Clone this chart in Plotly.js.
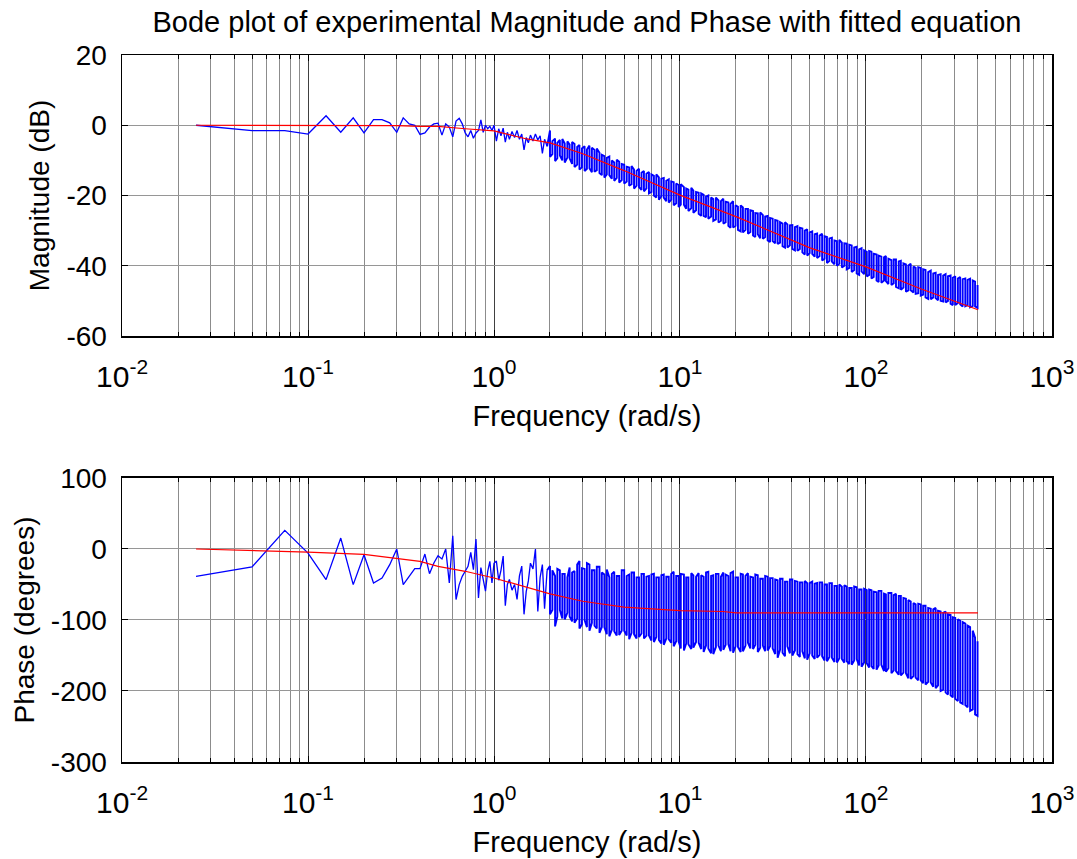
<!DOCTYPE html>
<html>
<head>
<meta charset="utf-8">
<script src="https://cdn.plot.ly/plotly-3.0.1.min.js"></script>
<style>html,body{margin:0;padding:0;background:#fff;}#chart{width:1077px;height:859px;}</style>
</head>
<body>
<div id="chart"></div>
<script>
// ---- measured data (read from the picture) ----
// low frequencies, individual samples (rad/s)
const lowFreq = [0.025,0.05,0.075,0.1,0.125,0.15,0.175,0.2,0.225,0.25,
                 0.275,0.3,0.325,0.35,0.375,0.4,0.425,0.45,0.475,0.5,
                 0.525,0.55,0.575,0.6,0.625,0.65,0.675,0.7,0.725,0.75,
                 0.775,0.8,0.825,0.85,0.875,0.9,0.925,0.95,0.975,1.0];
const magLow = [0,-1.5,-1.5,-2.5,2.7,-2.0,2.1,-2.2,1.6,1.6,
                0.7,-2.0,2.1,0.4,0.0,-2.6,-2.2,-0.5,0.4,0.6,
                -2.8,0.4,-0.5,-3.3,1.2,2.0,0.4,-2.2,-3.3,-1.5,
                -3.7,-2.2,-1.5,1.5,-2.0,0.0,-1.0,-0.3,-1.5,0.0];
const phLow = [-38.5,-25.3,26.2,-5.7,-43.1,15.4,-50.2,-8,-47.8,-40.8,
               -22.1,0,-50.2,-38.5,-27.7,-27.7,-7.1,-34.7,-19.7,-9.4,
               -14.1,0,-47.8,18.7,-71.2,-50.2,-38.5,-31.4,-24.4,-4.7,
               -29,14,-68.9,-26.2,-43.1,-59.5,-31.4,-17.4,-47.8,-20];

// 1 - 2 rad/s
const midFreq = [1.03,1.06,1.09,1.12,1.15,1.18,1.21,1.25,1.29,1.33,
                 1.37,1.41,1.45,1.49,1.53,1.57,1.62,1.67,1.72,1.77,
                 1.82,1.87,1.93];
const magMid = [-4.5,-1.0,-3.0,-0.8,-4.8,-2.0,-4.0,-1.8,-3.5,-1.5,
                -4.0,-2.5,-7.0,-3.5,-5.0,-2.8,-4.5,-2.5,-4.2,-3.0,
                -8.0,-4.0,-6.0];
const phMid = [-17,-44,-30,-10,-80,-50,-43,-58,-50,-71,
               -38,-24,-92,-60,-45,-20,-28,0,-88,-40,
               -22,-84,-30];

// 2 - 400 rad/s, dense band: upper and lower excursion at each frequency
const denseFreq = [
  2.00,2.06,2.13,2.19,2.26,2.33,2.40,2.48,2.55,2.63,
  2.71,2.80,2.88,2.97,3.07,3.16,3.26,3.36,3.47,3.57,
  3.69,3.80,3.92,4.04,4.17,4.30,4.43,4.57,4.71,4.86,
  5.01,5.17,5.33,5.49,5.66,5.84,6.02,6.21,6.40,6.60,
  6.81,7.02,7.24,7.46,7.70,7.94,8.18,8.44,8.70,8.97,
  9.25,9.54,9.83,10.1,10.5,10.8,11.1,11.5,11.8,12.2,
  12.6,13.0,13.4,13.8,14.2,14.7,15.1,15.6,16.1,16.6,
  17.1,17.6,18.2,18.7,19.3,19.9,20.5,21.2,21.8,22.5,
  23.2,23.9,24.7,25.4,26.2,27.0,27.9,28.7,29.6,30.5,
  31.5,32.5,33.5,34.5,35.6,36.7,37.8,39.0,40.2,41.5,
  42.8,44.1,45.5,46.9,48.3,49.8,51.4,53.0,54.6,56.3,
  58.1,59.9,61.7,63.6,65.6,67.7,69.8,71.9,74.2,76.5,
  78.8,81.3,83.8,86.4,89.1,91.9,94.7,97.7,101,104,
  107,110,114,117,121,125,128,132,137,141,
  145,150,154,159,164,169,174,180,185,191,
  197,203,209,216,223,230,237,244,252,260,
  268,276,285,293,302,312,321,331,342,352,
  363,375,386,398];
const magUpper = [
  -1.5,-4.5,-3.8,-5.0,-4.2,-3.9,-5.2,-4.6,-5.5,-4.8,
  -5.3,-6.2,-5.6,-6.6,-6.0,-6.9,-5.8,-6.4,-7.0,-6.6,
  -7.8,-8.4,-8.8,-9.3,-8.9,-10.0,-10.6,-9.8,-10.4,-11.0,
  -11.2,-11.8,-12.0,-11.6,-12.6,-13.0,-12.4,-13.5,-13.0,-13.8,
  -13.3,-14.0,-14.4,-14.0,-14.8,-15.2,-15.0,-15.8,-15.4,-16.0,
  -16.2,-16.6,-17.0,-16.8,-17.6,-18.0,-18.3,-17.8,-18.6,-19.0,
  -19.2,-19.4,-19.8,-20.3,-20.0,-20.6,-21.0,-20.6,-21.4,-21.6,
  -20.9,-21.8,-22.0,-22.4,-21.6,-22.8,-23.2,-22.8,-23.4,-23.8,
  -23.8,-24.2,-24.4,-25.0,-25.1,-24.8,-25.6,-26.0,-25.8,-26.4,
  -26.6,-27.0,-27.2,-27.6,-28.0,-27.6,-28.2,-28.5,-28.4,-29.0,
  -28.7,-29.2,-29.4,-30.0,-29.6,-30.5,-30.2,-31.0,-30.8,-31.4,
  -30.9,-31.6,-31.8,-32.2,-32.0,-32.8,-33.0,-32.6,-33.4,-33.6,
  -33.7,-34.0,-34.2,-34.8,-34.6,-35.3,-35.0,-35.6,-36.0,-35.8,
  -36.0,-36.6,-36.8,-37.1,-37.4,-37.6,-37.2,-38.0,-38.4,-38.2,
  -38.2,-38.8,-38.6,-39.3,-39.6,-39.9,-39.4,-40.2,-40.6,-40.4,
  -40.6,-41.0,-41.2,-41.8,-41.4,-42.2,-42.0,-42.6,-42.4,-42.8,
  -42.4,-43.0,-42.8,-43.4,-43.0,-43.6,-43.2,-43.8,-43.6,-44.0,
  -43.7,-44.2,-44.5,-45.5];
const magLower = [
  -9.0,-8.2,-10.2,-9.4,-8.6,-10.0,-10.6,-9.2,-9.4,-11.0,
  -11.9,-11.2,-12.6,-12.0,-13.0,-12.4,-12.2,-13.4,-13.2,-12.8,
  -13.6,-14.2,-14.9,-14.0,-14.2,-15.2,-15.8,-15.0,-16.3,-15.6,
  -16.6,-16.0,-17.2,-16.8,-18.0,-17.2,-17.6,-18.4,-18.8,-18.0,
  -19.4,-19.0,-20.0,-20.6,-21.2,-20.2,-20.6,-21.6,-22.0,-21.2,
  -22.8,-22.2,-23.3,-22.6,-22.6,-23.8,-24.4,-23.6,-24.9,-24.2,
  -25.2,-25.8,-25.8,-26.2,-26.6,-26.0,-27.2,-26.8,-27.7,-27.2,
  -28.0,-27.6,-28.6,-29.2,-29.1,-28.6,-29.8,-30.2,-30.5,-29.8,
  -30.9,-30.4,-31.4,-31.8,-31.0,-32.2,-32.3,-31.8,-32.8,-33.2,
  -33.0,-33.6,-33.8,-33.4,-34.4,-34.8,-34.8,-34.2,-35.2,-35.6,
  -35.7,-35.2,-36.2,-36.8,-37.1,-36.4,-36.6,-37.4,-37.8,-37.2,
  -38.5,-38.0,-39.2,-38.6,-38.8,-39.6,-40.0,-39.4,-40.5,-40.0,
  -41.0,-40.6,-41.8,-41.2,-42.2,-42.6,-41.6,-42.4,-43.0,-42.6,
  -43.6,-43.2,-44.2,-44.6,-44.8,-44.2,-44.4,-45.2,-45.5,-45.0,
  -46.0,-46.4,-46.8,-46.2,-47.4,-47.0,-47.0,-47.6,-48.0,-47.8,
  -48.5,-48.2,-49.0,-49.4,-49.5,-49.0,-49.2,-49.8,-50.0,-50.2,
  -50.4,-50.0,-50.8,-51.2,-51.2,-50.6,-51.0,-51.6,-51.5,-51.2,
  -51.8,-51.4,-51.6,-52.0];
const phUpper = [
  -24,-30,-38,-28,-30,-35,-35,-40,-26,-33,
  -31,-22,-17,-27,-28,-20,-22,-30,-30,-25,
  -25,-33,-36,-29,-40,-35,-32,-38,-38,-30,
  -30,-38,-36,-33,-33,-40,-40,-35,-35,-39,
  -38,-36,-35,-40,-40,-37,-36,-39,-39,-35,
  -32,-38,-38,-35,-36,-40,-40,-34,-37,-39,
  -34,-37,-39,-33,-32,-38,-37,-35,-35,-39,
  -33,-36,-38,-34,-32,-40,-40,-35,-36,-38,
  -34,-39,-40,-36,-37,-42,-42,-38,-39,-41,
  -41,-43,-44,-42,-42,-46,-46,-43,-43,-45,
  -46,-47,-47,-45,-48,-48,-46,-49,-48,-47,
  -47,-50,-50,-48,-48,-52,-52,-50,-53,-51,
  -53,-55,-55,-53,-54,-57,-57,-56,-58,-57,
  -58,-60,-61,-59,-59,-63,-64,-62,-62,-65,
  -63,-66,-66,-69,-70,-72,-74,-76,-78,-77,
  -78,-80,-80,-83,-84,-85,-83,-87,-88,-90,
  -88,-92,-93,-96,-97,-99,-101,-103,-105,-108,
  -110,-115,-125,-130];
const phLower = [
  -92,-86,-109,-95,-86,-98,-99,-90,-95,-102,
  -104,-98,-112,-106,-100,-110,-115,-104,-108,-112,
  -118,-110,-110,-120,-123,-114,-116,-122,-121,-115,
  -115,-122,-127,-118,-120,-126,-124,-119,-126,-122,
  -122,-129,-131,-124,-128,-133,-135,-126,-127,-132,
  -137,-130,-130,-140,-143,-133,-134,-141,-139,-131,
  -132,-141,-145,-136,-140,-147,-148,-138,-136,-144,
  -142,-135,-134,-144,-146,-137,-138,-145,-144,-136,
  -132,-140,-141,-135,-145,-139,-136,-144,-143,-137,
  -140,-148,-153,-142,-146,-151,-137,-147,-150,-143,
  -148,-152,-144,-154,-156,-147,-150,-155,-153,-149,
  -151,-157,-158,-152,-153,-159,-160,-154,-155,-160,
  -158,-162,-163,-157,-155,-164,-166,-160,-161,-167,
  -165,-169,-170,-164,-163,-172,-173,-168,-175,-171,
  -172,-177,-178,-174,-175,-182,-183,-179,-181,-185,
  -185,-189,-191,-187,-188,-194,-196,-192,-200,-198,
  -202,-205,-206,-209,-211,-214,-216,-218,-220,-223,
  -228,-226,-233,-235];

// fitted equation (red)
const fitMagFreq = [0.025,0.1,0.2,0.3,0.4,0.5,0.7,1,1.5,2,3,5,10,20,50,100,200,400];
const fitMag = [0,0,0,-0.1,-0.3,-0.3,-1.0,-1.6,-3.9,-5.0,-8.1,-12.9,-19.9,-26.0,-34.9,-40.3,-46.7,-52.5];
const fitPhFreq = [0.025,0.1,0.2,0.3,0.4,0.5,0.7,1,1.5,2,3,5,10,17,20,50,100,200,400];
const fitPh = [0,-4.3,-7.5,-12.7,-17.4,-24.4,-31.4,-40.8,-53.4,-63.2,-73.6,-82,-86.7,-88,-90,-90,-90,-90,-90];

// axis labels
const xTickVals = [0.01, 0.1, 1, 10, 100, 1000];
const xTickText = ['10<sup>-2</sup>','10<sup>-1</sup>','10<sup>0</sup>','10<sup>1</sup>','10<sup>2</sup>','10<sup>3</sup>'];
const magTickVals = [-60, -40, -20, 0, 20];
const magTickText = ['-60', '-40', '-20', '0', '20'];
const phTickVals = [-300, -200, -100, 0, 100];
const phTickText = ['-300', '-200', '-100', '0', '100'];
const titleText = 'Bode plot of experimental Magnitude and Phase with fitted equation';
const xTitle = 'Frequency (rad/s)';
const magTitle = 'Magnitude (dB)';
const phTitle = 'Phase (degrees)';

// minor (2..9) positions of each decade for the log grid
const minorVals = [];
[0.01, 0.1, 1, 10, 100].forEach(d => { for (let m = 2; m <= 9; m++) minorVals.push(+(d * m).toPrecision(3)); });

// ---- build traces ----
function denseSeries(up, lo) {
  const xs = [], ys = [];
  const n = Math.min(denseFreq.length, up.length, lo.length);
  for (let i = 0; i < n; i++) {
    const a = (i % 2 === 0) ? up[i] : lo[i];
    const b = (i % 2 === 0) ? lo[i] : up[i];
    xs.push(denseFreq[i], denseFreq[i]);
    ys.push(a, b);
  }
  return {xs, ys};
}
const dMag = denseSeries(magUpper, magLower);
const dPh = denseSeries(phUpper, phLower);
const sparseF = lowFreq.concat(midFreq);
const sparseMag = magLow.concat(magMid);
const sparsePh = phLow.concat(phMid);
const nS = sparseF.length - 1;
// dense part starts from the last sparse sample so the line is continuous
const denseFMag = [sparseF[nS]].concat(dMag.xs), denseMagY = [sparseMag[nS]].concat(dMag.ys);
const denseFPh = [sparseF[nS]].concat(dPh.xs), densePhY = [sparsePh[nS]].concat(dPh.ys);

const FONT = 'Arial, "Liberation Sans", Helvetica, sans-serif';
const blueThin = {color: '#0000ff', width: 1.3};
const blueDense = {color: '#0000ff', width: 1.9};
const redLine = {color: '#ff0000', width: 1.2};

const traces = [
  {x: sparseF, y: sparseMag, type: 'scatter', mode: 'lines', line: blueThin, xaxis: 'x', yaxis: 'y'},
  {x: denseFMag, y: denseMagY, type: 'scatter', mode: 'lines', line: blueDense, xaxis: 'x', yaxis: 'y'},
  {x: fitMagFreq, y: fitMag, type: 'scatter', mode: 'lines', line: redLine, xaxis: 'x', yaxis: 'y'},
  {x: sparseF, y: sparsePh, type: 'scatter', mode: 'lines', line: blueThin, xaxis: 'x2', yaxis: 'y2'},
  {x: denseFPh, y: densePhY, type: 'scatter', mode: 'lines', line: blueDense, xaxis: 'x2', yaxis: 'y2'},
  {x: fitPhFreq, y: fitPh, type: 'scatter', mode: 'lines', line: redLine, xaxis: 'x2', yaxis: 'y2'}
];

function xAxis(anchor) {
  return {
    type: 'log', range: [-2.0002, 3.0002], anchor: anchor,
    tickmode: 'array', tickvals: xTickVals, ticktext: xTickText,
    showline: true, linecolor: '#000', linewidth: 1.5, mirror: 'allticks',
    ticks: 'inside', ticklen: 6, tickcolor: '#000', tickwidth: 1,
    showgrid: true, gridcolor: '#404040', gridwidth: 1, zeroline: false,
    minor: {tickmode: 'array', tickvals: minorVals, showgrid: true, gridcolor: '#8c8c8c', gridwidth: 1, ticks: 'inside', ticklen: 4, tickcolor: '#000'},
    tickfont: {family: FONT, size: 30, color: '#000'},
    ticklabelstandoff: 13,
    title: {text: xTitle, font: {family: FONT, size: 29, color: '#000'}, standoff: 14},
    automargin: false
  };
}
function yAxis(domain, range, tv, tt, title, anchor) {
  return {
    domain: domain, range: range, anchor: anchor,
    tickmode: 'array', tickvals: tv, ticktext: tt,
    showline: true, linecolor: '#000', linewidth: 1.5, mirror: 'allticks',
    ticks: 'inside', ticklen: 6, tickcolor: '#000',
    showgrid: true, gridcolor: '#969696', gridwidth: 1, zeroline: false,
    tickfont: {family: FONT, size: 28, color: '#000'},
    ticklabelstandoff: 8,
    title: {text: title, font: {family: FONT, size: 28, color: '#000'}, standoff: 8},
    automargin: false
  };
}

const layout = {
  width: 1077, height: 859,
  margin: {l: 122, r: 25, t: 55, b: 97},
  paper_bgcolor: '#fff', plot_bgcolor: '#fff',
  showlegend: false,
  title: {text: titleText, font: {family: FONT, size: 29, color: '#000'}, x: 0.545, xanchor: 'center', y: 0.974, yanchor: 'middle'},
  xaxis: xAxis('y'),
  yaxis: yAxis([0.6025, 1], [-60, 20], magTickVals, magTickText, magTitle, 'x'),
  xaxis2: xAxis('y2'),
  yaxis2: yAxis([0, 0.4017], [-300, 100], phTickVals, phTickText, phTitle, 'x2')
};

Plotly.newPlot('chart', traces, layout, {displayModeBar: false, staticPlot: true});
</script>
</body>
</html>
